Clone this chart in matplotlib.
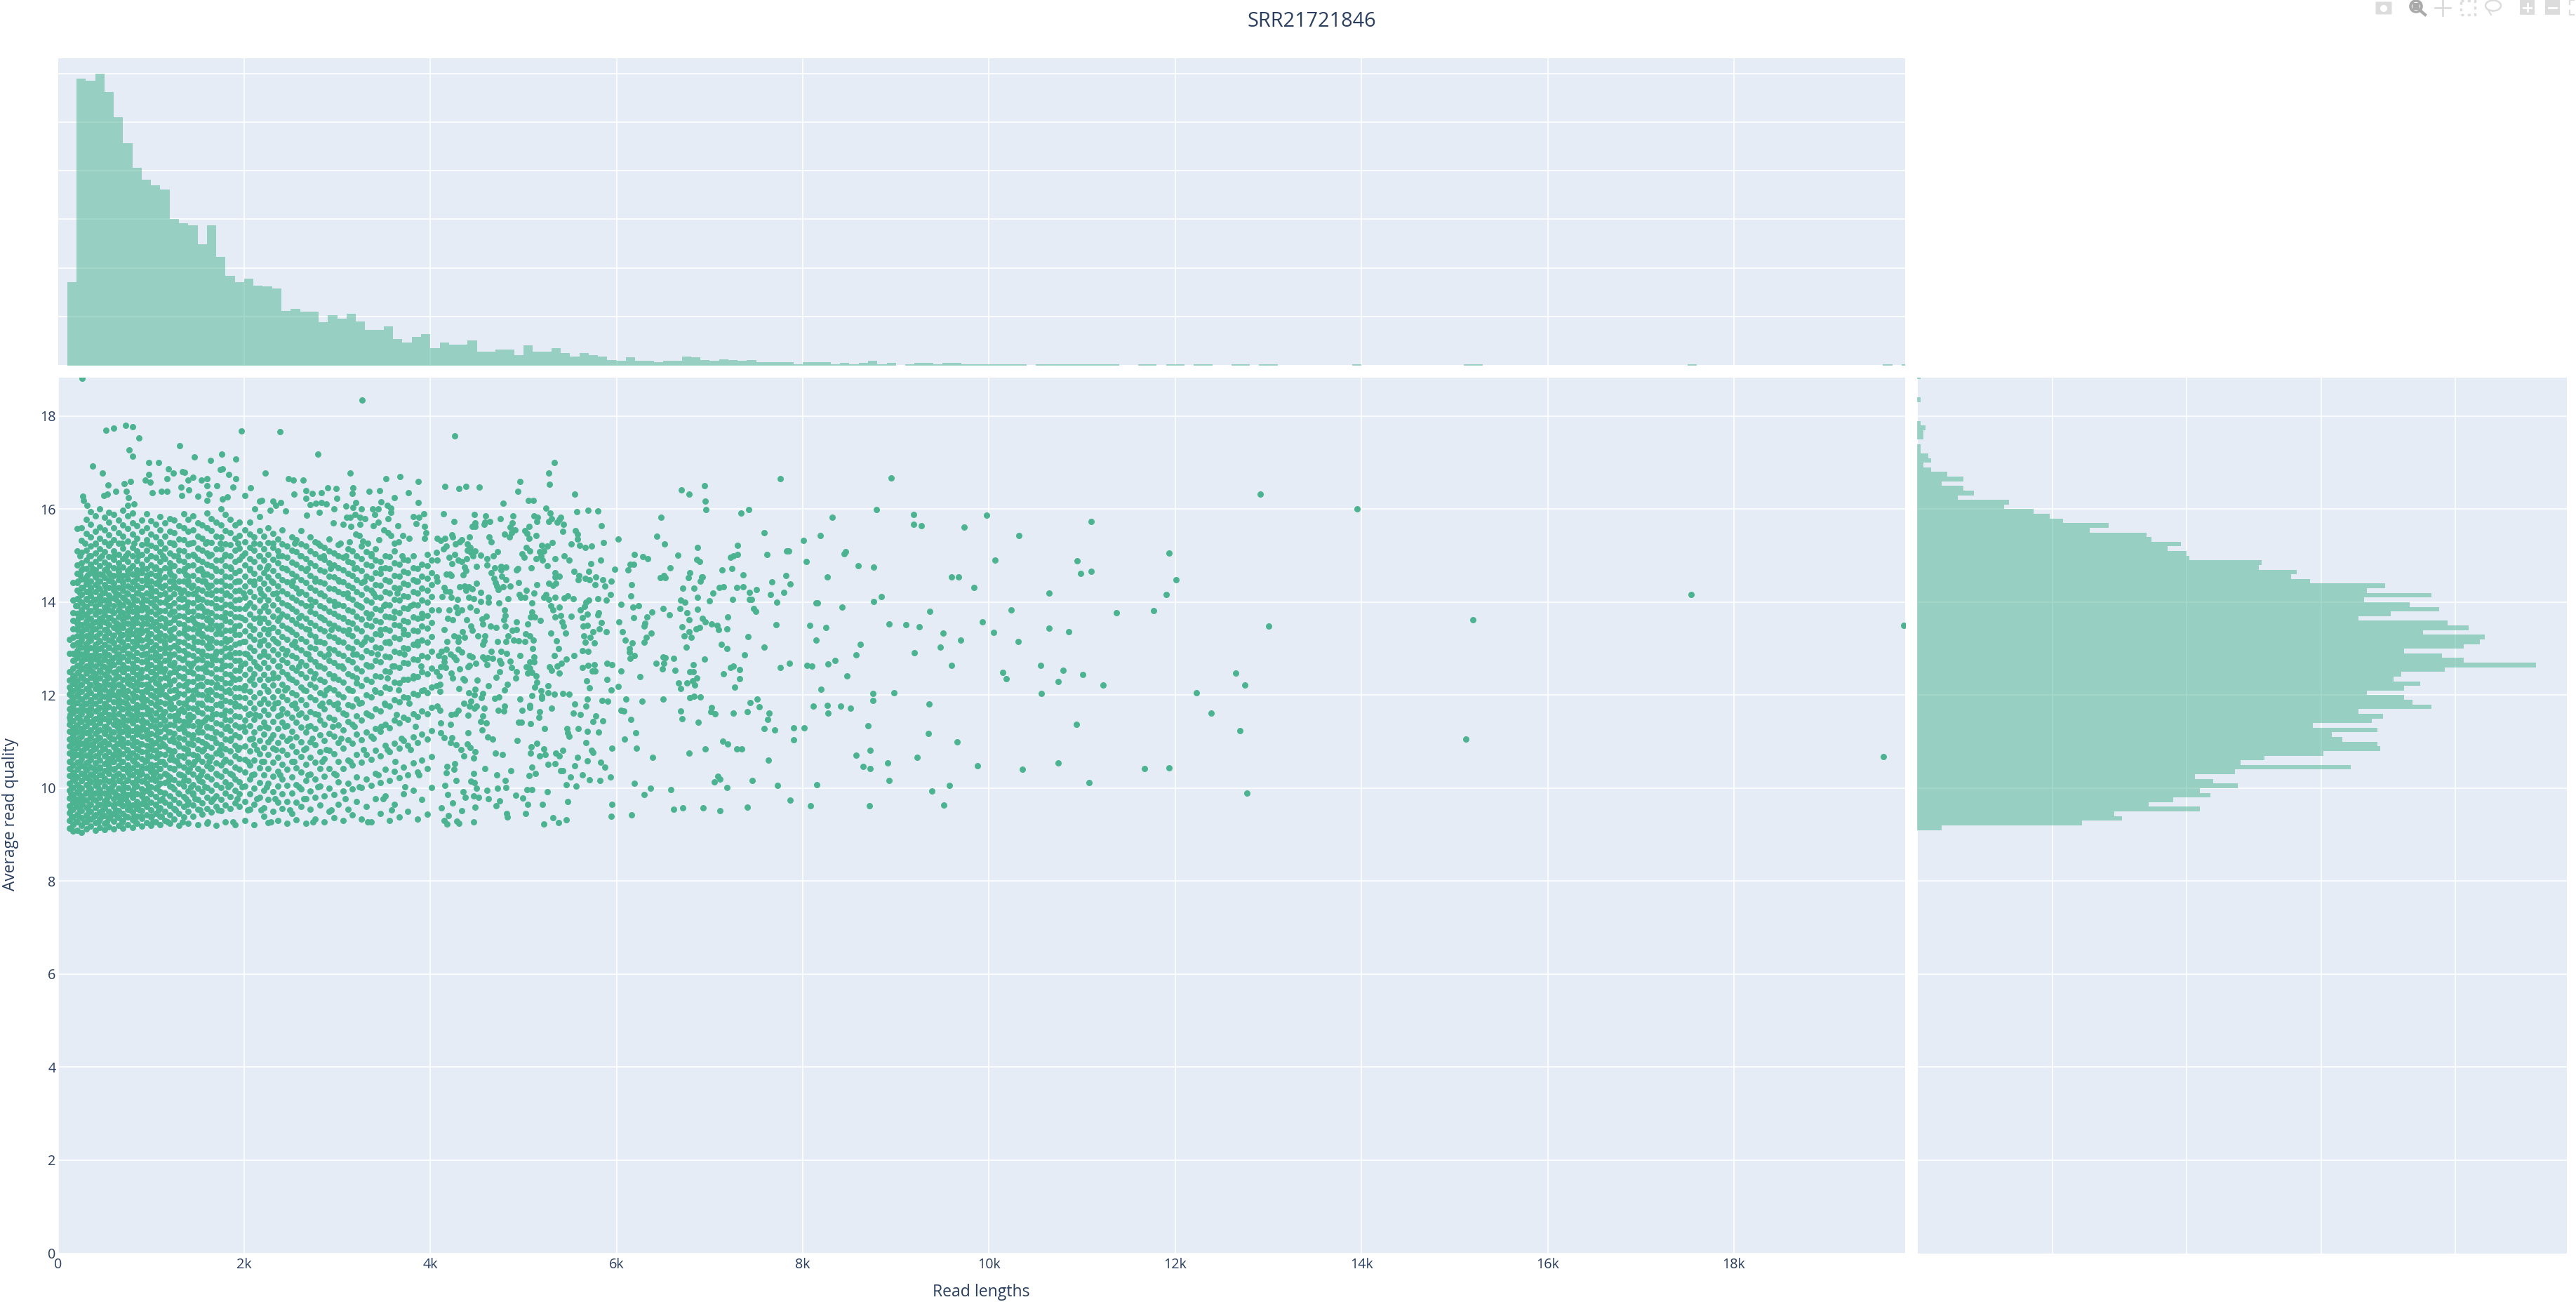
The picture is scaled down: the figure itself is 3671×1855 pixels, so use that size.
#!/usr/bin/env python3
"""Read length vs. read quality scatter with marginal histograms (SRR21721846)."""
import matplotlib
matplotlib.use("Agg")
import matplotlib.pyplot as plt
from matplotlib.patches import Circle, Ellipse, FancyBboxPatch, Rectangle
from matplotlib.transforms import Bbox

W, H = 3671, 1855
GREEN = "#4CB391"
INK = "#2a3f5f"
PANEL = "#E5ECF6"

plt.rcParams["font.family"] = ["Open Sans", "DejaVu Sans"]

# marginal histogram of read length: bins of 100 starting at 100
length_counts = [
    85, 295, 293, 300, 281, 255, 228, 203, 191, 185, 181, 150, 146, 144, 124, 144, 111, 92, 85, 89,
    82, 81, 79, 56, 58, 55, 55, 44, 51, 48, 53, 45, 36, 36, 40, 27, 23, 29, 32, 17,
    23, 21, 21, 25, 14, 14, 16, 16, 10, 20, 14, 14, 17, 12, 9, 12, 10, 9, 5, 4,
    8, 4, 4, 3, 4, 4, 9, 8, 5, 4, 6, 5, 4, 5, 3, 3, 3, 3, 1, 3,
    3, 3, 1, 2, 1, 2, 4, 1, 2, 0, 1, 2, 2, 1, 2, 2, 1, 1, 1, 1,
    1, 1, 1, 0, 1, 1, 1, 1, 1, 1, 1, 1, 1, 0, 0, 1, 1, 0, 1, 1,
    0, 1, 1, 0, 0, 1, 1, 0, 1, 1, 0, 0, 0, 0, 0, 0, 0, 0, 1, 0,
    0, 0, 0, 0, 0, 0, 0, 0, 0, 0, 1, 1, 0, 0, 0, 0, 0, 0, 0, 0,
    0, 0, 0, 0, 0, 0, 0, 0, 0, 0, 0, 0, 0, 0, 1, 0, 0, 0, 0, 0,
    0, 0, 0, 0, 0, 0, 0, 0, 0, 0, 0, 0, 0, 0, 0, 1, 0, 1,
]

# marginal histogram of quality: bins of 0.1 starting at 9.1
quality_counts = [
    9, 61, 76, 73, 105, 86, 95, 109, 105, 119, 110, 103, 118, 161, 120, 129, 151, 172, 171, 158,
    154, 171, 147, 169, 173, 164, 191, 184, 181, 167, 181, 187, 177, 180, 196, 230, 203, 195, 181, 203,
    209, 211, 188, 205, 197, 164, 176, 194, 183, 166, 191, 167, 174, 146, 139, 141, 127, 128, 101, 100,
    93, 98, 87, 85, 64, 71, 54, 49, 43, 32, 34, 15, 21, 17, 9, 17, 11, 5, 2, 5,
    4, 1, 1, 0, 2, 2, 3, 1, 0, 0, 0, 0, 1, 0, 0, 0, 0, 1,
]

# sparse tail, read point by point
tail_lens = [
    7755, 8947, 6948, 6952, 6962, 7337, 7419, 8317, 8793, 9187, 9192, 9274, 9971, 9735, 11100, 10317, 12912, 13955,
    7587, 8188, 8005, 7298, 7616, 7298, 7226, 7250, 7827, 7846, 8457, 8447, 8034, 11931, 10062, 10946, 8596, 8764,
    7135, 7236, 7361, 7818, 8264, 6924, 9600, 9673, 10985, 11100, 12008, 7669, 7861, 7106, 7149, 7294, 7356, 7505,
    7423, 7649, 7793, 7034, 8841, 9836, 10648, 11903, 7000, 7246, 7423, 7447, 7721, 8764, 8140, 8154, 8423, 7471,
    7491, 9365, 10235, 11369, 11768, 7193, 6919, 6952, 7020, 7082, 7092, 7183, 7712, 8077, 8250, 8928, 9110, 9250,
    9932, 9504, 10052, 10648, 10855, 13003, 7409, 8140, 9692, 10312, 7125, 8615, 7188, 7587, 9197, 9480, 7371, 8572,
    6943, 8346, 7856, 8274, 7755, 8043, 8096, 7226, 7255, 7318, 7145, 9596, 10557, 10793, 11004, 10148, 10182, 8476,
    7322, 7265, 10744, 11225, 12652, 12748, 8197, 8755, 8976, 10562, 12225, 7510, 7433, 7529, 7020, 7010, 7058, 7250,
    7404, 7635, 7625, 8116, 8260, 8409, 8514, 8269, 8750, 9355, 12383, 7587, 7697, 7899, 8015, 8697, 10937, 12691,
    9351, 7140, 7193, 7899, 9658, 6952, 7289, 7347, 8726, 8572, 9226, 7630, 8908, 8644, 8726, 9879, 10360, 10744,
    11667, 11936, 7087, 7111, 7049, 7457, 7188, 7731, 8149, 8923, 9572, 11076, 9384, 7866, 8082, 6928, 7111, 7404,
    8716, 9514, 12773, 15199, 17540, 19824, 15118, 19607,
]
tail_quals = [
    16.65, 16.67, 16.5, 16.17, 15.99, 15.91, 15.99, 15.82, 15.99, 15.88, 15.68, 15.65, 15.87, 15.62, 15.74, 15.43, 16.32, 16.0,
    15.49, 15.43, 15.33, 15.23, 15.02, 15.03, 14.97, 15.0, 15.1, 15.1, 15.08, 15.04, 14.87, 15.06, 14.9, 14.89, 14.79, 14.76,
    14.69, 14.72, 14.59, 14.57, 14.54, 14.54, 14.55, 14.55, 14.62, 14.66, 14.48, 14.44, 14.39, 14.31, 14.33, 14.31, 14.33, 14.27,
    14.21, 14.17, 14.21, 14.19, 14.12, 14.31, 14.2, 14.16, 14.03, 14.06, 14.06, 14.06, 14.0, 14.01, 13.98, 13.98, 13.9, 13.87,
    13.81, 13.8, 13.84, 13.78, 13.82, 13.69, 13.65, 13.57, 13.53, 13.5, 13.41, 13.42, 13.51, 13.5, 13.45, 13.53, 13.51, 13.47,
    13.57, 13.33, 13.35, 13.44, 13.37, 13.49, 13.26, 13.18, 13.19, 13.16, 13.1, 13.1, 13.0, 13.03, 12.91, 13.03, 12.87, 12.87,
    12.78, 12.74, 12.68, 12.67, 12.59, 12.64, 12.62, 12.6, 12.62, 12.55, 12.46, 12.64, 12.64, 12.54, 12.45, 12.49, 12.35, 12.41,
    12.35, 12.18, 12.29, 12.22, 12.47, 12.22, 12.13, 12.04, 12.05, 12.04, 12.06, 11.92, 11.84, 11.75, 11.73, 11.64, 11.6, 11.62,
    11.65, 11.61, 11.48, 11.77, 11.78, 11.76, 11.72, 11.61, 11.89, 11.81, 11.62, 11.28, 11.25, 11.3, 11.3, 11.35, 11.37, 11.24,
    11.17, 11.01, 10.95, 11.04, 10.99, 10.85, 10.84, 10.84, 10.81, 10.71, 10.67, 10.6, 10.55, 10.47, 10.43, 10.49, 10.41, 10.55,
    10.43, 10.44, 10.26, 10.2, 10.14, 10.16, 10.01, 10.06, 10.07, 10.16, 10.06, 10.12, 9.94, 9.75, 9.62, 9.57, 9.51, 9.59,
    9.62, 9.64, 9.9, 13.62, 14.17, 13.5, 11.05, 10.68,
]

# upper fringe, read point by point
fringe_lens = [
    258, 3266, 517, 599, 724, 801, 868, 767, 801, 1310, 1469, 1637, 1762, 1911, 1973, 2382, 2790, 373, 479, 974, 1079, 978,
    1185, 1243, 1334, 1363, 1454, 1401, 1541, 1603, 1743, 1767, 1834, 1911, 2228, 2478, 2531, 2632, 3141, 3521, 3670, 3872,
    536, 714, 777, 940, 988, 1171, 1320, 1406, 1603, 1704, 1877, 2069, 2007, 2536, 2665, 2733, 2829, 2901, 2987, 3170, 3165,
    3343, 3458, 3761, 267, 272, 310, 493, 531, 623, 733, 757, 753, 820, 1012, 1108, 1171, 1329, 1502, 1627, 1603, 1767, 1819,
    2663, 2995, 3616, 3472, 3872, 3198, 2706, 2769, 2832, 2882, 2166, 2191, 2309, 2392, 2337, 3535, 3573, 3093, 3166, 2965,
    2116, 2279, 3259, 3377, 3440, 2442, 3932, 3879, 3814, 3847, 3937, 2807, 2673, 3191, 3246, 3296, 3404, 3573, 3548, 3101,
    3136, 3442, 3246, 2957, 3063, 3146, 3387, 3653, 3497, 3548, 3573, 3950, 3706, 3774, 3937, 3196, 3234, 3447, 3133, 3271, 3656,
]
fringe_quals = [
    18.82, 18.34, 17.7, 17.74, 17.81, 17.78, 17.53, 17.27, 17.14, 17.37, 17.12, 17.05, 17.18, 17.08, 17.68, 17.67, 17.18, 16.93, 16.77, 17.0, 17.0, 16.75,
    16.87, 16.77, 16.81, 16.79, 16.68, 16.63, 16.63, 16.65, 16.85, 16.87, 16.74, 16.66, 16.78, 16.66, 16.63, 16.63, 16.78, 16.66, 16.7, 16.59,
    16.52, 16.55, 16.6, 16.63, 16.58, 16.66, 16.48, 16.42, 16.51, 16.51, 16.47, 16.46, 16.3, 16.32, 16.4, 16.34, 16.35, 16.46, 16.44, 16.46, 16.34,
    16.39, 16.4, 16.36, 16.28, 16.19, 16.09, 16.29, 16.32, 16.38, 16.39, 16.25, 16.09, 16.12, 16.36, 16.38, 16.39, 16.29, 16.28, 16.33, 16.19, 16.22, 16.27,
    16.23, 16.23, 16.25, 16.16, 16.15, 16.14, 16.1, 16.13, 16.14, 16.11, 16.17, 16.19, 16.18, 16.14, 16.08, 16.09, 16.03, 16.07, 16.04, 16.01,
    16.01, 15.97, 16.0, 16.0, 16.01, 15.96, 15.9, 15.83, 15.84, 15.69, 15.63, 15.93, 15.87, 15.88, 15.83, 15.79, 15.88, 15.93, 15.79, 15.83,
    15.82, 15.72, 15.68, 15.71, 15.67, 15.63, 15.65, 15.65, 15.55, 15.49, 15.43, 15.49, 15.44, 15.37, 15.38, 15.47, 15.44, 15.34, 15.3, 15.32, 15.3,
]

# mid range 4050-6900, read point by point
mid_lens = [
    4258, 5331, 5271, 4959, 5281, 4158, 4304, 4379, 4527, 4937, 5552, 4778, 5055, 5103, 6693, 6776, 5238, 4138, 4472, 4593, 4884, 5286, 5570, 5695, 5798,
    5110, 5150, 4751, 5401, 6479, 4253, 4640, 4585, 4477, 4578, 4879, 5145, 5301, 5271, 5361, 5386, 5429, 4452, 4482, 4859, 5060, 4907, 5015, 5422, 5560,
    5836, 4799, 4874, 5040, 4849, 5138, 5582, 4231, 4075, 4158, 4238, 4417, 4110, 4628, 5060, 5577, 6431, 6017, 4339, 4271, 4314, 4655, 5861, 5306, 4394,
    5509, 5198, 5258, 5600, 5665, 5731, 6517, 6871, 5027, 4168, 4143, 4427, 4397, 4477, 4434, 5067, 4723, 5221, 5173, 4063, 4984, 4258, 4542, 4678, 4457,
    5437, 6193, 6658, 5185, 4203, 5005, 4610, 4389, 5133, 5200, 5341, 5489, 6281, 6336, 5831, 6858, 6894, 4075, 4296, 4334, 4231, 5723, 6145, 6180, 4605,
    4492, 5256, 4691, 4756, 4814, 4364, 5080, 4942, 4924, 4756, 6572, 5977, 4382, 6122, 5698, 5542, 4650, 5336, 6783, 4171, 4208, 4221, 4351, 5592, 6507,
    5336, 5386, 4768, 4063, 5773, 6914, 4683, 4811, 5665, 5708, 5849, 6469, 6524, 6768, 5590, 5944, 4075, 6896, 4944, 4696, 4497, 6160, 5273, 5344, 5319,
    5145, 5766, 5871, 4716, 4314, 4369, 4414, 4150, 4783, 4854, 4447, 4384, 4728, 6708, 6828, 5027, 4542, 4163, 4208, 5113, 4954, 5934, 5243, 4125, 5221,
    5339, 5477, 6155, 4226, 4623, 4412, 4836, 4967, 5017, 5434, 5537, 5796, 5703, 4464, 4294, 5271, 5889, 6688, 6866, 4540, 4625, 4736, 5090, 5670, 6733,
    6047, 6178, 6238, 5296, 5386, 5658, 6499, 6678, 6869, 6379, 6570, 6753, 5808, 5688, 5612, 5092, 4799, 4088, 4201, 4276, 4339, 4427, 4495, 5319, 4291,
    5514, 5396, 5336, 6185, 6323, 6781, 5630, 5801, 5118, 5075, 5183, 4806, 4791, 4603, 4552, 4188, 4238, 4389, 4924, 6027, 6301, 5839, 5414, 5047, 4560,
    4648, 4703, 4806, 4434, 6293, 5429, 5683, 5640, 6703, 6894, 6853, 4148, 4447, 4924, 4879, 5816, 6065, 6369, 5748, 5886, 6776, 5452, 5293, 4346, 4507,
    4253, 4585, 4834, 5025, 5067, 4301, 4364, 5648, 6725, 6803, 6321, 5715, 6090, 5105, 4897, 4947, 5012, 4814, 4721, 4181, 4296, 5356, 4578, 6170, 6293,
    5763, 5665, 4565, 5374, 5095, 6748, 6135, 4168, 4301, 4120, 4334, 4650, 4761, 5633, 5695, 6135, 4218, 4088, 4821, 4959, 5334, 5540, 4422, 6188, 5113,
    4452, 4256, 4565, 4618, 4670, 4150, 6499, 6524, 6612, 6148, 5457, 4276, 4583, 4854, 4741, 5065, 5113, 4487, 5407, 5899, 6426, 6507, 4756, 4150, 4605,
    5947, 5693, 5761, 6821, 5361, 4422, 4402, 4113, 4161, 5027, 5281, 5633, 4871, 4311, 6492, 5067, 5301, 6630, 6049, 5738, 5771, 4743, 4924, 6788, 6821,
    5045, 5092, 5384, 4068, 4223, 4095, 5135, 4706, 4914, 4241, 6250, 6858, 4351, 4502, 4364, 5675, 5899, 5145, 6813, 6668, 6755, 4100, 4063, 4829, 4623,
    5266, 6838, 5123, 6014, 4304, 5705, 6685, 4480, 4794, 5942, 5185, 4100, 4409, 5266, 4562, 5329, 5424, 5489, 4472, 5090, 5198, 4733, 6783, 6833, 6899,
    4691, 4550, 5198, 4964, 5683, 6100, 6499, 5846, 5904, 6271, 4432, 4356, 5547, 5065, 4417, 5670, 4073, 4799, 4492, 4472, 4580, 5067, 5298, 4987, 6050,
    6075, 6690, 4100, 4296, 4786, 4728, 5173, 4271, 4221, 5537, 5607, 4402, 4565, 5163, 5778, 6700, 6150, 4542, 5743, 5851, 4113, 4603, 4949, 4974, 5077,
    4218, 6876, 5226, 5467, 5587, 4555, 5683, 5808, 4402, 4113, 5477, 6205, 4150, 4231, 4618, 4665, 5489, 6085, 4934, 4216, 4394, 4276, 5143, 5673, 5082,
    4427, 4326, 5218, 5419, 6210, 5952, 5728, 4482, 4701, 5077, 5346, 6781, 4773, 5175, 5231, 4361, 5386, 5743, 6384, 4464, 5577, 5688, 5829, 4258, 5341,
    5261, 4176, 5552, 5090, 5871, 4585, 4253, 4864, 5401, 5419, 4168, 4464, 4711, 5130, 5057, 5630, 5504, 5934, 4276, 4804, 4432, 4472, 5710, 5818, 6188,
    4153, 5457, 5562, 4492, 4721, 4814, 6361, 5037, 5090, 6582, 4608, 4349, 5258, 4183, 6296, 4917, 4464, 4520, 4377, 4990, 4623, 4743, 5472, 4241, 5045,
    5203, 5952, 4708, 4118, 4477, 6612, 6708, 4334, 4821, 4829, 5025, 6160, 4193, 5942, 5314, 5457, 4150, 4281, 4467, 4304, 5379, 4181, 5216,
]
mid_quals = [
    17.57, 17.01, 16.78, 16.59, 16.54, 16.49, 16.45, 16.49, 16.47, 16.38, 16.33, 16.13, 16.19, 16.19, 16.41, 16.33, 16.03, 15.9, 15.89, 15.86, 15.86, 15.92, 15.95, 15.97, 15.96,
    15.86, 15.82, 15.8, 15.83, 15.82, 15.73, 15.73, 15.72, 15.7, 15.67, 15.71, 15.73, 15.79, 15.74, 15.72, 15.78, 15.68, 15.63, 15.63, 15.62, 15.63, 15.55, 15.54, 15.53, 15.54,
    15.64, 15.47, 15.49, 15.48, 15.41, 15.43, 15.46, 15.45, 15.38, 15.38, 15.4, 15.41, 15.33, 15.4, 15.38, 15.36, 15.42, 15.36, 15.35, 15.26, 15.3, 15.3, 15.29, 15.28, 15.25,
    15.26, 15.22, 15.21, 15.23, 15.18, 15.21, 15.25, 15.18, 15.17, 15.2, 15.15, 15.17, 15.11, 15.1, 15.07, 15.1, 15.09, 15.1, 15.09, 15.07, 15.04, 15.03, 15.01, 15.0, 14.99,
    15.0, 15.03, 15.01, 15.0, 14.97, 14.97, 14.94, 14.94, 14.94, 14.91, 14.94, 14.9, 14.98, 14.93, 14.9, 14.92, 14.88, 14.9, 14.9, 14.87, 14.83, 14.83, 14.82, 14.82, 14.8,
    14.77, 14.79, 14.74, 14.77, 14.75, 14.75, 14.74, 14.73, 14.69, 14.7, 14.74, 14.71, 14.68, 14.69, 14.67, 14.66, 14.63, 14.63, 14.63, 14.6, 14.6, 14.57, 14.59, 14.58, 14.58,
    14.55, 14.56, 14.56, 14.55, 14.54, 14.55, 14.52, 14.49, 14.51, 14.48, 14.48, 14.53, 14.53, 14.53, 14.48, 14.45, 14.46, 14.46, 14.42, 14.42, 14.4, 14.38, 14.41, 14.41, 14.36,
    14.38, 14.37, 14.35, 14.35, 14.33, 14.35, 14.33, 14.31, 14.33, 14.34, 14.29, 14.26, 14.27, 14.3, 14.3, 14.26, 14.21, 14.24, 14.23, 14.19, 14.16, 14.16, 14.16, 14.12, 14.11,
    14.11, 14.13, 14.13, 14.11, 14.1, 14.1, 14.08, 14.1, 14.1, 14.09, 14.08, 14.07, 14.05, 14.07, 14.06, 14.06, 14.04, 14.05, 14.1, 14.01, 14.0, 13.98, 13.98, 14.0, 14.0,
    13.95, 13.9, 13.93, 13.93, 13.9, 13.91, 13.87, 13.86, 13.85, 13.79, 13.73, 13.77, 13.78, 13.75, 13.83, 13.79, 13.84, 13.84, 13.84, 13.89, 13.84, 13.89, 13.82, 13.83, 13.78,
    13.7, 13.71, 13.68, 13.67, 13.68, 13.63, 13.67, 13.73, 13.69, 13.68, 13.61, 13.71, 13.62, 13.7, 13.64, 13.66, 13.62, 13.63, 13.58, 13.57, 13.54, 13.56, 13.58, 13.53, 13.53,
    13.49, 13.46, 13.48, 13.48, 13.49, 13.48, 13.5, 13.48, 13.47, 13.45, 13.42, 13.41, 13.39, 13.41, 13.4, 13.42, 13.37, 13.34, 13.37, 13.36, 13.36, 13.33, 13.33, 13.36, 13.28,
    13.27, 13.27, 13.28, 13.32, 13.28, 13.25, 13.24, 13.27, 13.28, 13.24, 13.25, 13.24, 13.19, 13.19, 13.19, 13.17, 13.16, 13.16, 13.15, 13.15, 13.15, 13.17, 13.17, 13.13, 13.14,
    13.13, 13.14, 13.09, 13.01, 13.01, 13.04, 13.0, 12.99, 12.99, 12.95, 12.93, 12.95, 12.94, 12.96, 12.94, 12.93, 12.89, 12.86, 12.9, 12.85, 12.86, 12.86, 12.86, 12.86, 12.83,
    12.82, 12.82, 12.82, 12.8, 12.79, 12.8, 12.83, 12.81, 12.79, 12.79, 12.78, 12.76, 12.77, 12.73, 12.74, 12.72, 12.72, 12.68, 12.69, 12.69, 12.69, 12.68, 12.69, 12.71, 12.65,
    12.65, 12.64, 12.65, 12.65, 12.63, 12.64, 12.61, 12.61, 12.59, 12.61, 12.61, 12.6, 12.59, 12.57, 12.57, 12.58, 12.53, 12.54, 12.52, 12.52, 12.52, 12.5, 12.5, 12.5, 12.51,
    12.47, 12.49, 12.47, 12.5, 12.47, 12.41, 12.42, 12.39, 12.37, 12.37, 12.4, 12.37, 12.36, 12.32, 12.32, 12.31, 12.34, 12.28, 12.31, 12.26, 12.26, 12.24, 12.2, 12.23, 12.2,
    12.2, 12.22, 12.18, 12.19, 12.15, 12.16, 12.15, 12.13, 12.11, 12.12, 12.1, 12.08, 12.06, 12.06, 12.04, 12.03, 12.04, 12.03, 12.01, 11.99, 11.98, 11.96, 11.94, 11.98, 11.96,
    11.93, 11.94, 11.93, 11.91, 11.92, 11.91, 11.91, 11.89, 11.87, 11.87, 11.87, 11.82, 11.81, 11.78, 11.76, 11.77, 11.76, 11.77, 11.76, 11.72, 11.72, 11.73, 11.72, 11.68, 11.68,
    11.66, 11.66, 11.67, 11.67, 11.66, 11.67, 11.65, 11.6, 11.59, 11.61, 11.59, 11.57, 11.55, 11.52, 11.56, 11.5, 11.48, 11.44, 11.43, 11.45, 11.41, 11.41, 11.42, 11.42, 11.39,
    11.37, 11.42, 11.29, 11.29, 11.29, 11.26, 11.23, 11.21, 11.19, 11.19, 11.19, 11.19, 11.09, 11.09, 11.1, 11.06, 11.12, 11.05, 11.03, 10.98, 10.95, 10.93, 10.97, 10.98, 10.89,
    10.88, 10.83, 10.85, 10.82, 10.86, 10.86, 10.81, 10.78, 10.76, 10.76, 10.75, 10.75, 10.72, 10.7, 10.72, 10.7, 10.69, 10.77, 10.67, 10.65, 10.66, 10.59, 10.56, 10.53, 10.53,
    10.52, 10.47, 10.48, 10.46, 10.45, 10.43, 10.41, 10.37, 10.38, 10.38, 10.33, 10.31, 10.29, 10.31, 10.27, 10.29, 10.24, 10.24, 10.17, 10.16, 10.15, 10.12, 10.18, 10.16, 10.1,
    10.06, 10.07, 10.04, 10.0, 10.0, 10.02, 10.0, 9.97, 9.97, 9.97, 9.95, 9.93, 9.93, 9.87, 9.86, 9.85, 9.83, 9.8, 9.81, 9.79, 9.78, 9.73, 9.71, 9.69, 9.65,
    9.66, 9.66, 9.62, 9.58, 9.59, 9.55, 9.58, 9.52, 9.46, 9.38, 9.45, 9.42, 9.41, 9.4, 9.37, 9.32, 9.3, 9.29, 9.28, 9.24, 9.26, 9.23, 9.23,
]

# crowded part, estimated: length column -> qualities in that column
crowded_lens = [
    125, 165, 210, 255, 305, 350, 400, 450, 500, 550, 600, 650, 700, 750, 800, 850, 900, 950, 1000, 1050, 1100,
    1150, 1200, 1250, 1300, 1350, 1400, 1450, 1500, 1550, 1600, 1650, 1700, 1750, 1800, 1850, 1900, 1950,
    2010, 2060, 2110, 2165, 2215, 2260, 2310, 2365, 2410, 2460, 2515, 2560, 2610, 2665, 2710, 2760, 2815, 2860, 2910, 2965,
    3010, 3060, 3115, 3165, 3210, 3260, 3310, 3365, 3410, 3460, 3515, 3560, 3610, 3665, 3710, 3760, 3815, 3860, 3910, 3965, 4015,
]
crowded_quals = [
    [9.14, 9.31, 9.47, 9.62, 9.79, 9.95, 10.1, 10.27, 10.42, 10.58, 10.75, 10.9, 11.06, 11.22, 11.37, 11.53, 11.7, 11.85, 12.02, 12.18, 12.33, 12.5, 12.9, 13.2],
    [9.08, 9.22, 9.38, 9.55, 9.7, 9.86, 10.02, 10.18, 10.33, 10.5, 10.66, 10.81, 10.97, 11.13, 11.3, 11.45, 11.61, 11.78, 11.93, 12.1, 12.25, 12.42, 12.58, 12.75, 12.9, 13.08, 13.25, 13.42, 13.6, 13.78, 14.05, 14.42],
    [9.1, 9.28, 9.44, 9.6, 9.76, 9.92, 10.08, 10.24, 10.4, 10.56, 10.72, 10.88, 11.04, 11.2, 11.36, 11.52, 11.68, 11.84, 12.0, 12.16, 12.32, 12.48, 12.64, 12.8, 12.96, 13.12, 13.28, 13.44, 13.6, 13.76, 13.92, 14.08, 14.25, 14.42, 14.62, 14.8, 15.1, 15.58],
    [9.05, 9.2, 9.36, 9.52, 9.68, 9.84, 10.0, 10.16, 10.32, 10.48, 10.64, 10.8, 10.96, 11.12, 11.28, 11.44, 11.6, 11.76, 11.92, 12.08, 12.24, 12.4, 12.56, 12.72, 12.88, 13.04, 13.2, 13.36, 13.52, 13.68, 13.84, 14.0, 14.16, 14.32, 14.5, 14.7, 14.85, 15.07, 15.33, 15.6],
    [9.12, 9.27, 9.43, 9.59, 9.75, 9.91, 10.07, 10.23, 10.39, 10.55, 10.71, 10.87, 11.03, 11.19, 11.35, 11.51, 11.67, 11.83, 11.99, 12.15, 12.31, 12.47, 12.63, 12.79, 12.95, 13.11, 13.27, 13.43, 13.59, 13.75, 13.91, 14.07, 14.23, 14.39, 14.55, 14.72, 14.9, 15.12, 15.48, 15.78],
    [9.18, 9.34, 9.5, 9.66, 9.82, 9.98, 10.14, 10.3, 10.46, 10.62, 10.78, 10.94, 11.1, 11.26, 11.42, 11.58, 11.74, 11.9, 12.06, 12.22, 12.38, 12.54, 12.7, 12.86, 13.02, 13.18, 13.34, 13.5, 13.66, 13.82, 13.98, 14.14, 14.3, 14.46, 14.64, 14.82, 15.0, 15.2, 15.4, 15.68, 15.95],
    [9.1, 9.26, 9.42, 9.58, 9.74, 9.9, 10.06, 10.22, 10.38, 10.54, 10.7, 10.86, 11.02, 11.18, 11.34, 11.5, 11.66, 11.82, 11.98, 12.14, 12.3, 12.46, 12.62, 12.78, 12.94, 13.1, 13.26, 13.42, 13.58, 13.74, 13.9, 14.06, 14.22, 14.38, 14.54, 14.7, 14.88, 15.05, 15.25, 15.52, 15.86],
    [9.16, 9.33, 9.49, 9.65, 9.81, 9.97, 10.13, 10.29, 10.45, 10.61, 10.77, 10.93, 11.09, 11.25, 11.41, 11.57, 11.73, 11.89, 12.05, 12.21, 12.37, 12.53, 12.69, 12.85, 13.01, 13.17, 13.33, 13.49, 13.65, 13.81, 13.97, 14.13, 14.29, 14.45, 14.61, 14.78, 14.95, 15.15, 15.37, 15.62, 16.0],
    [9.11, 9.25, 9.41, 9.57, 9.73, 9.89, 10.05, 10.21, 10.37, 10.53, 10.69, 10.85, 11.01, 11.17, 11.33, 11.49, 11.65, 11.81, 11.97, 12.13, 12.29, 12.45, 12.61, 12.77, 12.93, 13.09, 13.25, 13.41, 13.57, 13.73, 13.89, 14.05, 14.21, 14.37, 14.53, 14.7, 14.86, 15.08, 15.3, 15.55, 15.82],
    [9.17, 9.35, 9.5, 9.67, 9.83, 9.99, 10.15, 10.31, 10.47, 10.63, 10.79, 10.95, 11.11, 11.27, 11.43, 11.59, 11.75, 11.91, 12.07, 12.23, 12.39, 12.55, 12.71, 12.87, 13.03, 13.19, 13.35, 13.51, 13.67, 13.83, 13.99, 14.15, 14.31, 14.47, 14.63, 14.8, 14.98, 15.22, 15.45, 15.72, 15.93],
    [9.13, 9.29, 9.45, 9.61, 9.77, 9.93, 10.09, 10.25, 10.41, 10.57, 10.73, 10.89, 11.05, 11.21, 11.37, 11.53, 11.69, 11.85, 12.01, 12.17, 12.33, 12.49, 12.65, 12.81, 12.97, 13.13, 13.29, 13.45, 13.61, 13.77, 13.93, 14.09, 14.25, 14.41, 14.57, 14.74, 14.92, 15.1, 15.35, 15.6, 15.88],
    [9.2, 9.36, 9.52, 9.68, 9.84, 10.0, 10.16, 10.32, 10.48, 10.64, 10.8, 10.96, 11.12, 11.28, 11.44, 11.6, 11.76, 11.92, 12.08, 12.24, 12.4, 12.56, 12.72, 12.88, 13.04, 13.2, 13.36, 13.52, 13.68, 13.84, 14.0, 14.16, 14.32, 14.48, 14.66, 14.84, 15.03, 15.27, 15.5, 15.76],
    [9.14, 9.3, 9.46, 9.62, 9.78, 9.94, 10.1, 10.26, 10.42, 10.58, 10.74, 10.9, 11.06, 11.22, 11.38, 11.54, 11.7, 11.86, 12.02, 12.18, 12.34, 12.5, 12.66, 12.82, 12.98, 13.14, 13.3, 13.46, 13.62, 13.78, 13.94, 14.1, 14.26, 14.42, 14.58, 14.76, 14.94, 15.16, 15.42, 15.66, 15.98],
    [9.22, 9.38, 9.54, 9.7, 9.86, 10.02, 10.18, 10.34, 10.5, 10.66, 10.82, 10.98, 11.14, 11.3, 11.46, 11.62, 11.78, 11.94, 12.1, 12.26, 12.42, 12.58, 12.74, 12.9, 13.06, 13.22, 13.38, 13.54, 13.7, 13.86, 14.02, 14.18, 14.34, 14.5, 14.68, 14.87, 15.06, 15.32, 15.58, 15.85],
    [9.15, 9.32, 9.48, 9.64, 9.8, 9.96, 10.12, 10.28, 10.44, 10.6, 10.76, 10.92, 11.08, 11.24, 11.4, 11.56, 11.72, 11.88, 12.04, 12.2, 12.36, 12.52, 12.68, 12.84, 13.0, 13.16, 13.32, 13.48, 13.64, 13.8, 13.96, 14.12, 14.28, 14.44, 14.6, 14.79, 15.0, 15.18, 15.47, 15.7, 15.92],
    [9.24, 9.4, 9.56, 9.72, 9.88, 10.04, 10.2, 10.36, 10.52, 10.68, 10.84, 11.0, 11.16, 11.32, 11.48, 11.64, 11.8, 11.96, 12.12, 12.28, 12.44, 12.6, 12.76, 12.92, 13.08, 13.24, 13.4, 13.56, 13.72, 13.88, 14.04, 14.2, 14.36, 14.52, 14.7, 14.89, 15.1, 15.38, 15.65],
    [9.18, 9.35, 9.51, 9.67, 9.83, 9.99, 10.15, 10.31, 10.47, 10.63, 10.79, 10.95, 11.11, 11.27, 11.43, 11.59, 11.75, 11.91, 12.07, 12.23, 12.39, 12.55, 12.71, 12.87, 13.03, 13.19, 13.35, 13.51, 13.67, 13.83, 13.99, 14.15, 14.31, 14.47, 14.63, 14.81, 15.02, 15.24, 15.53, 15.77],
    [9.26, 9.42, 9.6, 9.78, 9.96, 10.1, 10.26, 10.44, 10.6, 10.78, 10.92, 11.1, 11.26, 11.42, 11.6, 11.74, 11.9, 12.08, 12.24, 12.4, 12.58, 12.72, 12.9, 13.06, 13.22, 13.4, 13.54, 13.7, 13.88, 14.04, 14.2, 14.38, 14.54, 14.72, 14.92, 15.12, 15.34, 15.6, 15.9],
    [9.2, 9.38, 9.53, 9.7, 9.88, 10.03, 10.2, 10.36, 10.52, 10.7, 10.85, 11.02, 11.18, 11.34, 11.52, 11.67, 11.84, 12.0, 12.16, 12.34, 12.5, 12.66, 12.82, 12.98, 13.16, 13.32, 13.48, 13.64, 13.8, 13.98, 14.14, 14.3, 14.46, 14.62, 14.8, 15.0, 15.22, 15.46, 15.75],
    [9.28, 9.46, 9.64, 9.82, 10.0, 10.18, 10.34, 10.5, 10.66, 10.82, 10.98, 11.14, 11.3, 11.46, 11.62, 11.78, 11.94, 12.1, 12.26, 12.44, 12.6, 12.76, 12.92, 13.08, 13.24, 13.42, 13.58, 13.74, 13.9, 14.08, 14.24, 14.4, 14.58, 14.76, 14.96, 15.18, 15.4, 15.68],
    [9.22, 9.4, 9.58, 9.74, 9.92, 10.1, 10.26, 10.43, 10.58, 10.74, 10.9, 11.06, 11.22, 11.38, 11.54, 11.7, 11.86, 12.02, 12.18, 12.36, 12.52, 12.68, 12.84, 13.0, 13.18, 13.34, 13.5, 13.66, 13.82, 14.0, 14.16, 14.34, 14.5, 14.68, 14.88, 15.08, 15.3, 15.56, 15.84],
    [9.3, 9.5, 9.7, 9.9, 10.12, 10.32, 10.52, 10.72, 10.9, 11.1, 11.28, 11.46, 11.64, 11.82, 12.0, 12.2, 12.38, 12.56, 12.74, 12.92, 13.1, 13.28, 13.46, 13.64, 13.82, 14.0, 14.18, 14.36, 14.54, 14.74, 14.94, 15.16, 15.42, 15.7],
    [9.24, 9.42, 9.62, 9.84, 10.04, 10.24, 10.44, 10.62, 10.82, 11.02, 11.2, 11.38, 11.56, 11.74, 11.92, 12.1, 12.3, 12.48, 12.66, 12.84, 13.02, 13.2, 13.38, 13.56, 13.74, 13.92, 14.1, 14.28, 14.46, 14.64, 14.84, 15.06, 15.28, 15.52, 15.8],
    [9.34, 9.56, 9.76, 9.98, 10.18, 10.4, 10.6, 10.8, 11.0, 11.18, 11.36, 11.56, 11.74, 11.94, 12.12, 12.32, 12.5, 12.7, 12.88, 13.06, 13.24, 13.44, 13.62, 13.8, 13.98, 14.18, 14.36, 14.56, 14.78, 15.0, 15.24, 15.5, 15.76],
    [9.2, 9.46, 9.68, 9.88, 10.1, 10.3, 10.5, 10.7, 10.9, 11.08, 11.28, 11.46, 11.66, 11.84, 12.04, 12.22, 12.42, 12.6, 12.8, 12.98, 13.16, 13.34, 13.54, 13.72, 13.9, 14.08, 14.28, 14.46, 14.68, 14.9, 15.12, 15.36, 15.64],
    [9.38, 9.6, 9.82, 10.04, 10.26, 10.46, 10.66, 10.86, 11.06, 11.26, 11.44, 11.64, 11.82, 12.02, 12.2, 12.4, 12.58, 12.78, 12.96, 13.14, 13.34, 13.52, 13.7, 13.9, 14.08, 14.26, 14.46, 14.66, 14.88, 15.1, 15.34, 15.6, 15.9],
    [9.25, 9.5, 9.72, 9.94, 10.16, 10.36, 10.56, 10.76, 10.96, 11.16, 11.36, 11.54, 11.74, 11.92, 12.12, 12.3, 12.5, 12.68, 12.88, 13.06, 13.24, 13.44, 13.62, 13.8, 14.0, 14.18, 14.38, 14.56, 14.78, 15.0, 15.26, 15.52, 15.78],
    [9.4, 9.64, 9.86, 10.08, 10.3, 10.52, 10.72, 10.94, 11.14, 11.34, 11.54, 11.72, 11.92, 12.1, 12.3, 12.48, 12.68, 12.86, 13.04, 13.24, 13.42, 13.6, 13.8, 13.98, 14.18, 14.36, 14.58, 14.8, 15.02, 15.28, 15.56, 15.86],
    [9.22, 9.54, 9.76, 10.0, 10.22, 10.42, 10.64, 10.84, 11.04, 11.24, 11.44, 11.64, 11.82, 12.02, 12.2, 12.4, 12.58, 12.78, 12.96, 13.16, 13.34, 13.52, 13.72, 13.9, 14.1, 14.28, 14.48, 14.7, 14.92, 15.16, 15.42, 15.7],
    [9.44, 9.68, 9.92, 10.14, 10.36, 10.58, 10.8, 11.0, 11.2, 11.42, 11.62, 11.8, 12.0, 12.2, 12.38, 12.58, 12.76, 12.94, 13.14, 13.32, 13.5, 13.7, 13.88, 14.06, 14.26, 14.46, 14.66, 14.88, 15.12, 15.38, 15.66],
    [9.24, 9.56, 9.8, 10.02, 10.26, 10.48, 10.7, 10.92, 11.12, 11.32, 11.52, 11.72, 11.92, 12.1, 12.3, 12.5, 12.68, 12.86, 13.06, 13.24, 13.44, 13.62, 13.8, 14.0, 14.18, 14.38, 14.6, 14.82, 15.06, 15.3, 15.6, 15.92],
    [9.48, 9.72, 9.96, 10.2, 10.44, 10.66, 10.88, 11.08, 11.3, 11.5, 11.7, 11.9, 12.08, 12.28, 12.48, 12.66, 12.84, 13.04, 13.22, 13.42, 13.6, 13.78, 13.98, 14.16, 14.36, 14.56, 14.78, 15.02, 15.28, 15.54, 15.8],
    [9.2, 9.6, 9.84, 10.08, 10.32, 10.54, 10.76, 10.98, 11.2, 11.4, 11.6, 11.8, 12.0, 12.18, 12.38, 12.56, 12.76, 12.94, 13.14, 13.32, 13.5, 13.7, 13.88, 14.08, 14.26, 14.46, 14.68, 14.9, 15.14, 15.42, 15.72],
    [9.52, 9.76, 10.02, 10.26, 10.5, 10.72, 10.94, 11.16, 11.38, 11.58, 11.78, 11.98, 12.16, 12.36, 12.56, 12.74, 12.94, 13.12, 13.32, 13.5, 13.68, 13.88, 14.06, 14.26, 14.46, 14.66, 14.9, 15.14, 15.4, 15.66, 16.0],
    [9.28, 9.64, 9.9, 10.14, 10.38, 10.62, 10.84, 11.06, 11.28, 11.48, 11.68, 11.88, 12.08, 12.26, 12.46, 12.64, 12.84, 13.02, 13.22, 13.4, 13.6, 13.78, 13.96, 14.16, 14.36, 14.56, 14.78, 15.02, 15.26, 15.54, 15.88],
    [9.56, 9.82, 10.08, 10.32, 10.56, 10.8, 11.02, 11.24, 11.46, 11.66, 11.86, 12.06, 12.26, 12.44, 12.64, 12.82, 13.02, 13.2, 13.4, 13.58, 13.76, 13.96, 14.14, 14.34, 14.54, 14.76, 15.0, 15.24, 15.5, 15.78],
    [9.22, 9.68, 9.96, 10.2, 10.46, 10.7, 10.92, 11.14, 11.36, 11.56, 11.76, 11.96, 12.16, 12.34, 12.54, 12.74, 12.92, 13.1, 13.3, 13.48, 13.68, 13.86, 14.04, 14.24, 14.44, 14.64, 14.88, 15.12, 15.38, 15.66],
    [9.6, 9.88, 10.14, 10.4, 10.64, 10.88, 11.1, 11.32, 11.54, 11.76, 11.96, 12.16, 12.36, 12.54, 12.74, 12.92, 13.12, 13.3, 13.5, 13.68, 13.86, 14.06, 14.26, 14.46, 14.68, 14.92, 15.16, 15.44, 15.72],
    [9.3, 9.72, 10.04, 10.34, 10.62, 10.9, 11.22, 11.46, 11.72, 11.94, 12.2, 12.44, 12.68, 12.9, 13.16, 13.38, 13.62, 13.86, 14.1, 14.34, 14.56, 14.8, 15.06, 15.3, 15.56],
    [9.54, 9.88, 10.2, 10.5, 10.8, 11.06, 11.34, 11.6, 11.84, 12.08, 12.32, 12.56, 12.8, 13.04, 13.28, 13.5, 13.74, 13.98, 14.22, 14.46, 14.7, 14.94, 15.18, 15.46, 15.72],
    [9.22, 9.66, 10.0, 10.3, 10.6, 10.94, 11.2, 11.48, 11.72, 11.96, 12.24, 12.46, 12.72, 12.96, 13.2, 13.42, 13.66, 13.9, 14.12, 14.38, 14.62, 14.88, 15.12, 15.4],
    [9.8, 10.12, 10.44, 10.74, 11.02, 11.3, 11.56, 11.82, 12.06, 12.34, 12.58, 12.84, 13.08, 13.3, 13.56, 13.8, 14.04, 14.28, 14.52, 14.76, 15.0, 15.26, 15.54, 15.84],
    [9.4, 9.58, 9.96, 10.28, 10.58, 10.88, 11.16, 11.42, 11.68, 11.92, 12.2, 12.44, 12.7, 12.94, 13.18, 13.42, 13.66, 13.9, 14.14, 14.4, 14.64, 14.9, 15.14, 15.42],
    [9.26, 9.76, 10.1, 10.42, 10.72, 11.0, 11.3, 11.58, 11.82, 12.08, 12.34, 12.6, 12.84, 13.08, 13.32, 13.56, 13.8, 14.04, 14.28, 14.54, 14.78, 15.02, 15.28, 15.6],
    [9.5, 9.92, 10.26, 10.56, 10.86, 11.14, 11.44, 11.72, 11.96, 12.22, 12.48, 12.74, 12.98, 13.22, 13.46, 13.7, 13.94, 14.18, 14.42, 14.68, 14.92, 15.18, 15.48],
    [9.3, 9.7, 10.04, 10.36, 10.66, 10.98, 11.28, 11.56, 11.84, 12.1, 12.38, 12.62, 12.88, 13.12, 13.36, 13.6, 13.84, 14.08, 14.34, 14.58, 14.84, 15.1, 15.36],
    [9.56, 9.88, 10.2, 10.52, 10.82, 11.12, 11.42, 11.7, 11.98, 12.24, 12.5, 12.76, 13.0, 13.26, 13.5, 13.74, 13.98, 14.24, 14.48, 14.74, 15.0, 15.26, 15.56],
    [9.24, 9.72, 10.06, 10.4, 10.72, 11.02, 11.34, 11.62, 11.9, 12.16, 12.44, 12.7, 12.96, 13.2, 13.44, 13.7, 13.94, 14.18, 14.44, 14.7, 14.96, 15.2],
    [9.46, 9.9, 10.24, 10.58, 10.9, 11.22, 11.52, 11.8, 12.06, 12.34, 12.6, 12.86, 13.1, 13.36, 13.62, 13.86, 14.1, 14.36, 14.62, 14.86, 15.12, 15.4],
    [9.32, 9.7, 10.08, 10.44, 10.78, 11.1, 11.42, 11.72, 12.0, 12.28, 12.54, 12.8, 13.04, 13.3, 13.54, 13.8, 14.04, 14.3, 14.56, 14.82, 15.08, 15.34],
    [9.6, 9.98, 10.34, 10.68, 11.0, 11.32, 11.62, 11.9, 12.18, 12.46, 12.72, 12.98, 13.22, 13.48, 13.72, 13.98, 14.22, 14.48, 14.74, 15.0, 15.26, 15.54],
    [9.25, 9.78, 10.16, 10.52, 10.86, 11.2, 11.52, 11.8, 12.1, 12.38, 12.64, 12.9, 13.16, 13.42, 13.66, 13.92, 14.16, 14.42, 14.68, 14.94, 15.2],
    [9.54, 9.94, 10.3, 10.66, 11.0, 11.34, 11.64, 11.96, 12.24, 12.52, 12.78, 13.04, 13.3, 13.56, 13.8, 14.06, 14.32, 14.58, 14.84, 15.1, 15.4],
    [9.34, 9.8, 10.2, 10.56, 10.94, 11.28, 11.6, 11.9, 12.18, 12.46, 12.72, 13.0, 13.26, 13.5, 13.76, 14.02, 14.26, 14.52, 14.78, 15.04, 15.3],
    [9.64, 10.04, 10.42, 10.78, 11.14, 11.46, 11.78, 12.06, 12.34, 12.62, 12.9, 13.16, 13.42, 13.68, 13.92, 14.18, 14.44, 14.7, 14.96, 15.22],
    [9.28, 9.84, 10.26, 10.64, 11.02, 11.38, 11.7, 12.0, 12.3, 12.58, 12.84, 13.12, 13.38, 13.62, 13.88, 14.14, 14.4, 14.66, 14.92, 15.18],
    [9.5, 10.0, 10.42, 10.82, 11.18, 11.52, 11.86, 12.16, 12.46, 12.74, 13.0, 13.28, 13.54, 13.8, 14.04, 14.3, 14.56, 14.84, 15.1, 15.36],
    [9.36, 9.86, 10.32, 10.74, 11.12, 11.48, 11.8, 12.12, 12.42, 12.7, 12.98, 13.24, 13.5, 13.76, 14.02, 14.28, 14.54, 14.8, 15.06],
    [9.66, 10.14, 10.58, 10.98, 11.36, 11.7, 12.02, 12.34, 12.62, 12.9, 13.18, 13.44, 13.7, 13.96, 14.22, 14.48, 14.74, 15.0, 15.24],
    [9.3, 9.94, 10.42, 10.86, 11.26, 11.62, 11.96, 12.28, 12.58, 12.86, 13.14, 13.4, 13.66, 13.92, 14.18, 14.44, 14.7, 14.96],
    [9.54, 10.1, 10.6, 11.04, 11.44, 11.8, 12.14, 12.46, 12.76, 13.04, 13.32, 13.58, 13.84, 14.1, 14.36, 14.62, 14.88, 15.14],
    [9.42, 9.98, 10.5, 10.96, 11.38, 11.76, 12.1, 12.42, 12.72, 13.0, 13.28, 13.54, 13.8, 14.06, 14.32, 14.58, 14.84, 15.1],
    [9.72, 10.24, 10.72, 11.16, 11.56, 11.92, 12.26, 12.58, 12.88, 13.16, 13.44, 13.7, 13.96, 14.22, 14.48, 14.74, 15.0],
    [9.34, 10.02, 10.56, 11.04, 11.46, 11.84, 12.2, 12.52, 12.82, 13.1, 13.38, 13.64, 13.9, 14.16, 14.42, 14.68, 14.94, 15.2],
    [9.6, 10.2, 10.72, 11.2, 11.62, 12.0, 12.34, 12.66, 12.96, 13.24, 13.52, 13.78, 14.04, 14.3, 14.56, 14.82, 15.08],
    [9.28, 10.06, 10.62, 11.12, 11.56, 11.96, 12.3, 12.62, 12.92, 13.2, 13.48, 13.74, 14.0, 14.26, 14.52, 14.78, 15.04],
    [9.78, 10.32, 10.82, 11.28, 11.7, 12.08, 12.42, 12.74, 13.04, 13.32, 13.6, 13.86, 14.12, 14.38, 14.64, 14.9, 15.14],
    [9.46, 10.12, 10.7, 11.22, 11.66, 12.06, 12.4, 12.72, 13.02, 13.3, 13.58, 13.84, 14.1, 14.36, 14.62, 14.88],
    [9.84, 10.4, 10.92, 11.38, 11.8, 12.18, 12.52, 12.84, 13.14, 13.42, 13.7, 13.96, 14.22, 14.48, 14.74, 15.0],
    [9.3, 10.16, 10.78, 11.3, 11.76, 12.14, 12.5, 12.82, 13.12, 13.4, 13.68, 13.94, 14.2, 14.46, 14.72, 14.98],
    [9.66, 10.36, 10.96, 11.46, 11.9, 12.28, 12.62, 12.94, 13.24, 13.52, 13.8, 14.06, 14.32, 14.58, 14.84, 15.1],
    [9.38, 10.22, 10.86, 11.4, 11.86, 12.26, 12.6, 12.92, 13.22, 13.5, 13.78, 14.04, 14.3, 14.56, 14.82],
    [9.88, 10.46, 11.02, 11.52, 11.96, 12.34, 12.7, 13.02, 13.32, 13.6, 13.88, 14.14, 14.4, 14.66, 14.92],
    [9.5, 10.28, 10.92, 11.48, 11.94, 12.34, 12.68, 13.0, 13.3, 13.58, 13.86, 14.12, 14.38, 14.64, 14.9],
    [9.96, 10.54, 11.1, 11.6, 12.04, 12.42, 12.78, 13.1, 13.4, 13.68, 13.96, 14.22, 14.48, 14.74, 15.0],
    [9.34, 10.34, 10.98, 11.54, 12.0, 12.4, 12.76, 13.08, 13.38, 13.66, 13.94, 14.2, 14.46, 14.72],
    [9.76, 10.6, 11.16, 11.66, 12.1, 12.5, 12.86, 13.18, 13.48, 13.76, 14.04, 14.3, 14.56, 14.82],
    [9.44, 10.42, 11.06, 11.6, 12.06, 12.46, 12.82, 13.14, 13.44, 13.72, 14.0, 14.26, 14.52, 14.78, 15.02],
    [10.02, 10.68, 11.24, 11.74, 12.18, 12.58, 12.94, 13.26, 13.56, 13.84, 14.12, 14.38, 14.64, 14.9],
    [9.56, 10.48, 11.12, 11.68, 12.14, 12.54, 12.9, 13.22, 13.52, 13.8, 14.08, 14.34, 14.6, 14.86],
]

# second estimate of the crowd, by rows: quality -> lengths on that row
row_quals = [9.27, 9.53, 9.77, 10.03, 10.29, 10.57, 10.83, 11.07, 11.33, 11.59, 11.83, 12.11, 12.37, 12.63, 12.89, 13.15, 13.41, 13.67, 13.93, 14.19, 14.45, 14.73, 14.99, 15.27]
row_lens = [
    [190, 280, 430, 525, 690, 835, 1020, 1180, 1340, 1610, 1880, 2290, 2740, 3330],
    [140, 235, 330, 475, 620, 775, 875, 1085, 1265, 1525, 1725, 2040, 2185, 2490, 2935, 3580],
    [185, 270, 375, 520, 665, 730, 925, 1120, 1375, 1475, 1670, 1925, 2135, 2335, 2640, 3085, 3490],
    [145, 230, 330, 425, 575, 710, 825, 975, 1070, 1225, 1425, 1575, 1825, 1980, 2240, 2585, 2790, 3235, 3725],
    [180, 285, 370, 470, 630, 770, 880, 1030, 1170, 1320, 1530, 1715, 1870, 2085, 2385, 2685, 2985, 3440, 3880],
    [135, 240, 325, 530, 585, 680, 820, 935, 1125, 1275, 1465, 1625, 1780, 2035, 2190, 2535, 2840, 3135, 3620],
    [175, 275, 380, 480, 625, 745, 865, 1010, 1185, 1390, 1565, 1735, 1935, 2140, 2340, 2640, 2885, 3285, 3535, 3790],
    [150, 225, 345, 435, 570, 675, 800, 960, 1080, 1230, 1445, 1680, 1860, 2090, 2285, 2490, 2735, 3040, 3390, 3690],
    [195, 290, 395, 515, 640, 725, 905, 1040, 1160, 1335, 1515, 1605, 1820, 1995, 2230, 2440, 2685, 2950, 3185, 3470, 3840],
    [130, 245, 335, 465, 590, 780, 855, 985, 1130, 1285, 1415, 1660, 1785, 2045, 2120, 2395, 2590, 2790, 3090, 3335, 3635],
    [170, 285, 370, 505, 655, 735, 915, 1065, 1210, 1365, 1540, 1745, 1905, 2175, 2330, 2540, 2840, 3000, 3240, 3505, 3770],
    [140, 220, 325, 445, 575, 695, 830, 945, 1115, 1265, 1470, 1630, 1835, 2000, 2250, 2435, 2640, 2885, 3130, 3400, 3660, 3930],
    [180, 265, 385, 530, 620, 760, 880, 1025, 1180, 1345, 1505, 1705, 1880, 2080, 2310, 2485, 2745, 2960, 3205, 3535, 3820],
    [235, 340, 475, 560, 705, 810, 970, 1095, 1240, 1425, 1590, 1770, 1965, 2140, 2375, 2590, 2795, 3045, 3335, 3590, 3900],
    [190, 290, 395, 510, 640, 770, 925, 1050, 1205, 1385, 1545, 1690, 1845, 2030, 2215, 2445, 2690, 2905, 3170, 3430, 3720],
    [245, 330, 440, 585, 685, 845, 985, 1140, 1295, 1465, 1635, 1815, 1990, 2175, 2340, 2545, 2780, 3010, 3290, 3555, 3865],
    [205, 275, 375, 525, 635, 775, 895, 1060, 1215, 1360, 1510, 1725, 1885, 2095, 2265, 2490, 2695, 2935, 3120, 3465, 3710],
    [225, 320, 470, 560, 715, 840, 950, 1110, 1255, 1440, 1610, 1790, 1970, 2160, 2380, 2590, 2830, 3060, 3340, 3605, 3905],
    [190, 285, 400, 530, 665, 780, 905, 1035, 1190, 1385, 1535, 1700, 1855, 2030, 2225, 2475, 2715, 2975, 3235, 3500, 3790],
    [240, 345, 475, 620, 745, 860, 1000, 1150, 1320, 1470, 1645, 1810, 1995, 2185, 2350, 2585, 2825, 3110, 3385, 3640],
    [215, 305, 430, 575, 690, 815, 960, 1085, 1240, 1400, 1575, 1755, 1925, 2105, 2295, 2520, 2765, 3015, 3290, 3555, 3845],
    [265, 375, 525, 645, 775, 905, 1045, 1195, 1360, 1530, 1695, 1860, 2060, 2240, 2445, 2680, 2930, 3185, 3470],
    [235, 335, 470, 600, 730, 860, 1000, 1130, 1285, 1465, 1625, 1790, 1975, 2160, 2370, 2600, 2850, 3095, 3365, 3695],
    [290, 405, 560, 690, 820, 955, 1105, 1240, 1420, 1590, 1745, 1935, 2110, 2310, 2540, 2790, 3030, 3325, 3610],
]

# third estimate, only the solid block under about 1700
core_quals = [9.4, 9.65, 9.9, 10.16, 10.43, 10.7, 10.95, 11.2, 11.46, 11.71, 11.97, 12.24, 12.5, 12.76, 13.02, 13.28, 13.54, 13.8, 14.06, 14.32, 14.59]
core_lens = [
    [150, 225, 310, 385, 470, 560, 640, 725, 815, 890, 1005, 1110],
    [190, 260, 345, 435, 510, 605, 680, 760, 860, 940, 1055, 1205, 1390],
    [140, 220, 295, 365, 455, 540, 615, 705, 795, 905, 990, 1140, 1295, 1450],
    [175, 250, 340, 410, 495, 585, 660, 745, 850, 925, 1045, 1190, 1355, 1520],
    [135, 215, 300, 390, 450, 550, 605, 720, 790, 900, 1005, 1100, 1250, 1410, 1640],
    [170, 255, 345, 425, 510, 595, 655, 765, 845, 965, 1065, 1215, 1340, 1495],
    [145, 220, 290, 375, 465, 530, 635, 700, 810, 885, 1015, 1130, 1290, 1435, 1590],
    [185, 265, 335, 415, 500, 580, 670, 755, 860, 950, 1075, 1190, 1360, 1510, 1695],
    [130, 235, 310, 380, 455, 545, 620, 715, 795, 910, 1020, 1145, 1265, 1415, 1575],
    [165, 270, 350, 430, 510, 600, 680, 760, 850, 960, 1090, 1220, 1330, 1490, 1650],
    [145, 215, 295, 395, 470, 555, 635, 725, 820, 905, 1030, 1165, 1280, 1440, 1610],
    [185, 255, 340, 420, 505, 590, 665, 770, 865, 970, 1080, 1205, 1375, 1535, 1705],
    [135, 225, 305, 375, 455, 535, 625, 705, 800, 895, 1015, 1135, 1260, 1425, 1585],
    [175, 265, 345, 425, 490, 575, 660, 750, 845, 950, 1065, 1190, 1340, 1490, 1665],
    [225, 300, 385, 465, 550, 620, 715, 810, 905, 1020, 1150, 1285, 1450, 1620],
    [255, 340, 420, 510, 590, 675, 760, 860, 970, 1085, 1220, 1380, 1550],
    [210, 295, 370, 450, 535, 630, 715, 805, 915, 1030, 1165, 1300, 1470, 1640],
    [250, 335, 415, 500, 585, 670, 755, 850, 965, 1090, 1225, 1395, 1575],
    [220, 305, 385, 465, 545, 625, 720, 815, 925, 1040, 1175, 1330, 1505],
    [265, 350, 430, 515, 600, 690, 780, 880, 995, 1120, 1265, 1435, 1620],
    [235, 320, 395, 480, 565, 650, 745, 845, 960, 1085, 1215, 1375, 1560],
]

# bin positions of the two marginal histograms
length_bins = [100 * (i + 1) for i in range(len(length_counts))]
quality_bins = [round(9.1 + 0.1 * i, 1) for i in range(len(quality_counts))]

x_ticks = [2000, 4000, 6000, 8000, 10000, 12000, 14000, 16000, 18000]
x_labels = ["2k", "4k", "6k", "8k", "10k", "12k", "14k", "16k", "18k"]
y_ticks = [2, 4, 6, 8, 10, 12, 14, 16, 18]


def panel(fig, left, top, right, bottom):
    ax = fig.add_axes([left / W, 1 - bottom / H, (right - left) / W, (bottom - top) / H])
    ax.set_facecolor(PANEL)
    ax.set_axisbelow(True)
    ax.grid(True, color="white", lw=1.2)
    for sp in ax.spines.values():
        sp.set_visible(False)
    ax.tick_params(length=0, labelsize=14.2, labelcolor=INK)
    return ax


def modebar(ax):
    light, dark = "#dcdcdc", "#a9a9a9"
    ax.add_patch(FancyBboxPatch((3387, 4), 20, 15, boxstyle="round,pad=1.5", fc=light, ec="none"))
    ax.add_patch(Circle((3397, 12), 5, fc="white", ec="none"))
    ax.add_patch(Circle((3443, 9), 8, fc="none", ec=dark, lw=2.6))
    ax.add_patch(Rectangle((3438, 4), 10, 10, fc=dark, ec="none"))
    ax.plot([3449, 3456], [15, 21], color=dark, lw=3)
    ax.plot([3470, 3492], [11, 11], color=light, lw=2)
    ax.plot([3481, 3481], [0, 22], color=light, lw=2)
    ax.add_patch(Rectangle((3507, 1), 20, 20, fc="none", ec=light, lw=2.4, ls=(0, (1.2, 1.6))))
    ax.add_patch(Ellipse((3553, 8), 22, 15, fc="none", ec=light, lw=1.8))
    ax.plot([3546, 3548, 3550], [14, 18, 21], color=light, lw=1.6)
    ax.add_patch(Rectangle((3591, 0), 21, 21, fc=light, ec="none"))
    ax.plot([3596, 3607], [10.5, 10.5], color="white", lw=2)
    ax.plot([3601.5, 3601.5], [5, 16], color="white", lw=2)
    ax.add_patch(Rectangle((3627, 0), 21, 21, fc=light, ec="none"))
    ax.plot([3632, 3643], [10.5, 10.5], color="white", lw=2)
    ax.plot([3662, 3662, 3668], [6, 0, 0], color=light, lw=1.6)
    ax.plot([3662, 3662, 3668], [15, 21, 21], color=light, lw=1.6)


def main():
    fig = plt.figure(figsize=(W / 100, H / 100), dpi=100, facecolor="white")

    overlay = fig.add_axes([0, 0, 1, 1], zorder=-1)
    overlay.set_xlim(0, W)
    overlay.set_ylim(H, 0)
    overlay.axis("off")
    modebar(overlay)
    overlay.text(1869, 31, "SRR21721846", color=INK, fontsize=20.8, ha="center", va="center")
    overlay.text(1398, 1841, "Read lengths", color=INK, fontsize=16.6, ha="center", va="center")
    overlay.text(15, 1160, "Average read quality", color=INK, fontsize=16.4, rotation=90, ha="center", va="center")

    # scatter
    ax = panel(fig, 82.5, 538, 2715, 1785.5)
    xs = list(tail_lens) + list(fringe_lens) + list(mid_lens)
    ys = list(tail_quals) + list(fringe_quals) + list(mid_quals)
    for col, quals in zip(crowded_lens, crowded_quals):
        xs += [col] * len(quals)
        ys += quals
    for qual, lens in list(zip(row_quals, row_lens)) + list(zip(core_quals, core_lens)):
        xs += lens
        ys += [qual] * len(lens)
    ax.scatter(xs, ys, s=42, c=GREEN, linewidths=0, zorder=3)
    ax.set_xlim(0, 19838)
    ax.set_ylim(0, 18.83)
    ax.set_xticks([0] + x_ticks, ["0"] + x_labels)
    ax.set_yticks([0] + y_ticks, ["0"] + [str(t) for t in y_ticks])
    ax.tick_params(axis="x", pad=5)
    ax.tick_params(axis="y", pad=2)

    # read length histogram, bars run a pixel under the panel
    top = panel(fig, 82.5, 83, 2715, 520)
    top.set_xlim(0, 19838)
    top.set_ylim(0, 315.8)
    top.set_xticks(x_ticks, [])
    top.set_yticks([50, 100, 150, 200, 250, 300], [])
    keep = [(b, c) for b, c in zip(length_bins, length_counts) if c > 0]
    bars = top.bar([b for b, _ in keep], [c + 0.7 for _, c in keep], width=100, bottom=-0.7, align="edge",
                   color=GREEN, alpha=0.5, linewidth=0, antialiased=False, zorder=3)
    clip = Bbox([[80, H - 522], [2715, H - 83]])
    for b in bars:
        b.set_clip_box(clip)

    # quality histogram
    right = panel(fig, 2733, 538, 3658, 1785.5)
    right.set_ylim(0, 18.83)
    right.set_xlim(0, 241.5)
    right.set_yticks(y_ticks, [])
    right.set_xticks([50, 100, 150, 200], [])
    keep = [(b, c) for b, c in zip(quality_bins, quality_counts) if c > 0]
    bars = right.barh([b for b, _ in keep], [c + 0.3 for _, c in keep], height=0.1, left=-0.3, align="edge",
                      color=GREEN, alpha=0.5, linewidth=0, antialiased=False, zorder=3)
    clip = Bbox([[2731, H - 1786], [3658, H - 538]])
    for b in bars:
        b.set_clip_box(clip)

    fig.savefig("out.png", dpi=100, facecolor="white")


if __name__ == "__main__":
    main()
